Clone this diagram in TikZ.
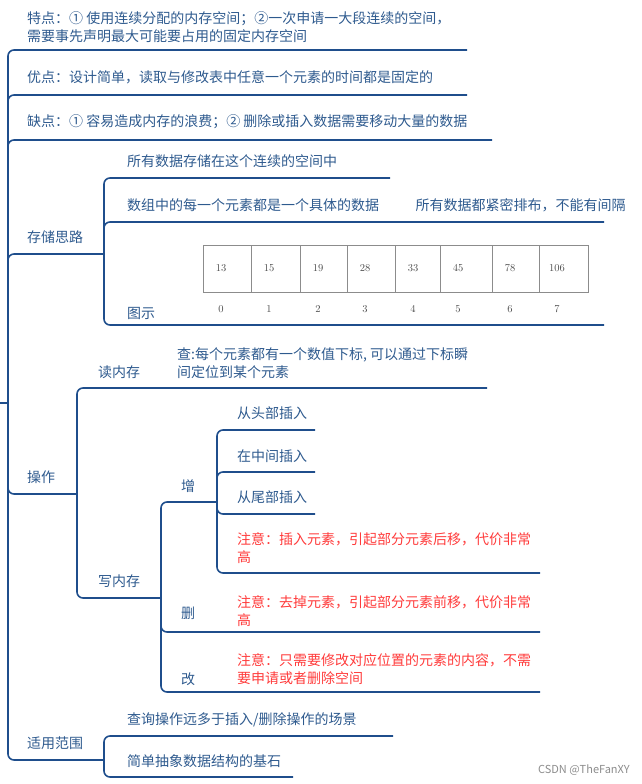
\documentclass[tikz,border=0pt]{standalone}
\usepackage{fontspec}
\setmainfont{Noto Sans CJK SC}
\usetikzlibrary{calc}
\definecolor{branch}{HTML}{1F4E8C}
\definecolor{label}{HTML}{2E5A8E}
\definecolor{note}{HTML}{FF3B3B}
\definecolor{cellline}{HTML}{8C8C8C}
\tikzset{
  br/.style={branch, line width=1.6pt, rounded corners=6pt},
  lbl/.style={anchor=base west, inner sep=0pt, text=label, font=\fontsize{14}{18}\selectfont, align=left},
  red/.style={lbl, text=note},
  cell/.style={draw=cellline, line width=0.8pt},
  num/.style={inner sep=0pt, text=black!70, font=\fontfamily{lmr}\fontsize{10.5}{12}\selectfont},
}
\begin{document}
\begin{tikzpicture}[x=1pt,y=-1pt]
  \useasboundingbox (0,0) rectangle (641,784);
  % trunk
  \coordinate (root) at (8,403);
  \draw[br] (0,403) -- (root);
  \foreach \y/\e in {50/467, 95/467, 140/492, 254/104, 494/76, 760/104}
    \draw[br] (root) |- (\e,\y);
  \node[lbl] (tedian) at (27,42) {特点：① 使用连续分配的内存空间；②一次申请一大段连续的空间，\\需要事先声明最大可能要占用的固定内存空间};
  \node[lbl] (youdian) at (27,82) {优点：设计简单，读取与修改表中任意一个元素的时间都是固定的};
  \node[lbl] (quedian) at (27,126) {缺点：① 容易造成内存的浪费；② 删除或插入数据需要移动大量的数据};
  \node[lbl] (cunchu) at (27,242) {存储思路};
  \node[lbl] (caozuo) at (27,482) {操作};
  \node[lbl] (fanwei) at (27,748) {适用范围};

  % storage
  \coordinate (s) at (104,254);
  \foreach \y/\e in {178/390, 222/604, 325/604}
    \draw[br] (s) |- (\e,\y);
  \node[lbl] (s1) at (127,166) {所有数据存储在这个连续的空间中};
  \node[lbl] (s2) at (127,210) {数组中的每一个元素都是一个具体的数据\hspace{2.6em}所有数据都紧密排布，不能有间隔};
  \node[lbl] (s3) at (127,318) {图示};
  \foreach \a/\b/\v/\i in {203/251/13/0, 251/300/15/1, 300/347/19/2, 347/395/28/3,
                           395/440/33/4, 440/492/45/5, 492/539/78/6, 539/588/106/7} {
    \draw[cell] (\a,245) rectangle (\b,292);
    \node[num] (v\i) at ($(\a,268)+(18,0)$) {\v};
    \node[num] (i\i) at ($(\a,309)+(18,0)$) {\i};
  }

  % operations
  \coordinate (o) at (77,494);
  \foreach \y/\e in {388/487, 598/161}
    \draw[br] (o) |- (\e,\y);
  \node[lbl] (read) at (98,377) {读内存};
  \node[lbl] (readq) at (177,377) {查:每个元素都有一个数值下标, 可以通过下标瞬\\间定位到某个元素};
  \node[lbl] (write) at (98,586) {写内存};
  \coordinate (w) at (161,598);
  \foreach \y/\e in {502/217, 632/540, 692/540}
    \draw[br] (w) |- (\e,\y);
  \node[lbl] (add) at (181,491) {增};
  \node[lbl] (del) at (181,618) {删};
  \node[lbl] (mod) at (181,684) {改};
  \node[red] (delnote) at (237,625) {注意：去掉元素，引起部分元素前移，代价非常\\高};
  \node[red] (modnote) at (237,683) {注意：只需要修改对应位置的元素的内容，不需\\要申请或者删除空间};
  \coordinate (a) at (217,502);
  \foreach \y/\e in {430/315, 472/315, 514/315, 573/540}
    \draw[br] (a) |- (\e,\y);
  \node[lbl] (a1) at (237,418) {从头部插入};
  \node[lbl] (a2) at (237,461) {在中间插入};
  \node[lbl] (a3) at (237,502) {从尾部插入};
  \node[red] (a4) at (237,562) {注意：插入元素，引起部分元素后移，代价非常\\高};

  % scope
  \coordinate (f) at (104,760);
  \foreach \y/\e in {736/393, 777/293}
    \draw[br] (f) |- (\e,\y);
  \node[lbl] (f1) at (127,724) {查询操作远多于插入/删除操作的场景};
  \node[lbl] (f2) at (127,766) {简单抽象数据结构的基石};

  \node[anchor=base east, inner sep=0pt, text=black!45, font=\fontsize{11}{12}\selectfont] (mark) at (630,773) {CSDN @TheFanXY};
\end{tikzpicture}
\end{document}
